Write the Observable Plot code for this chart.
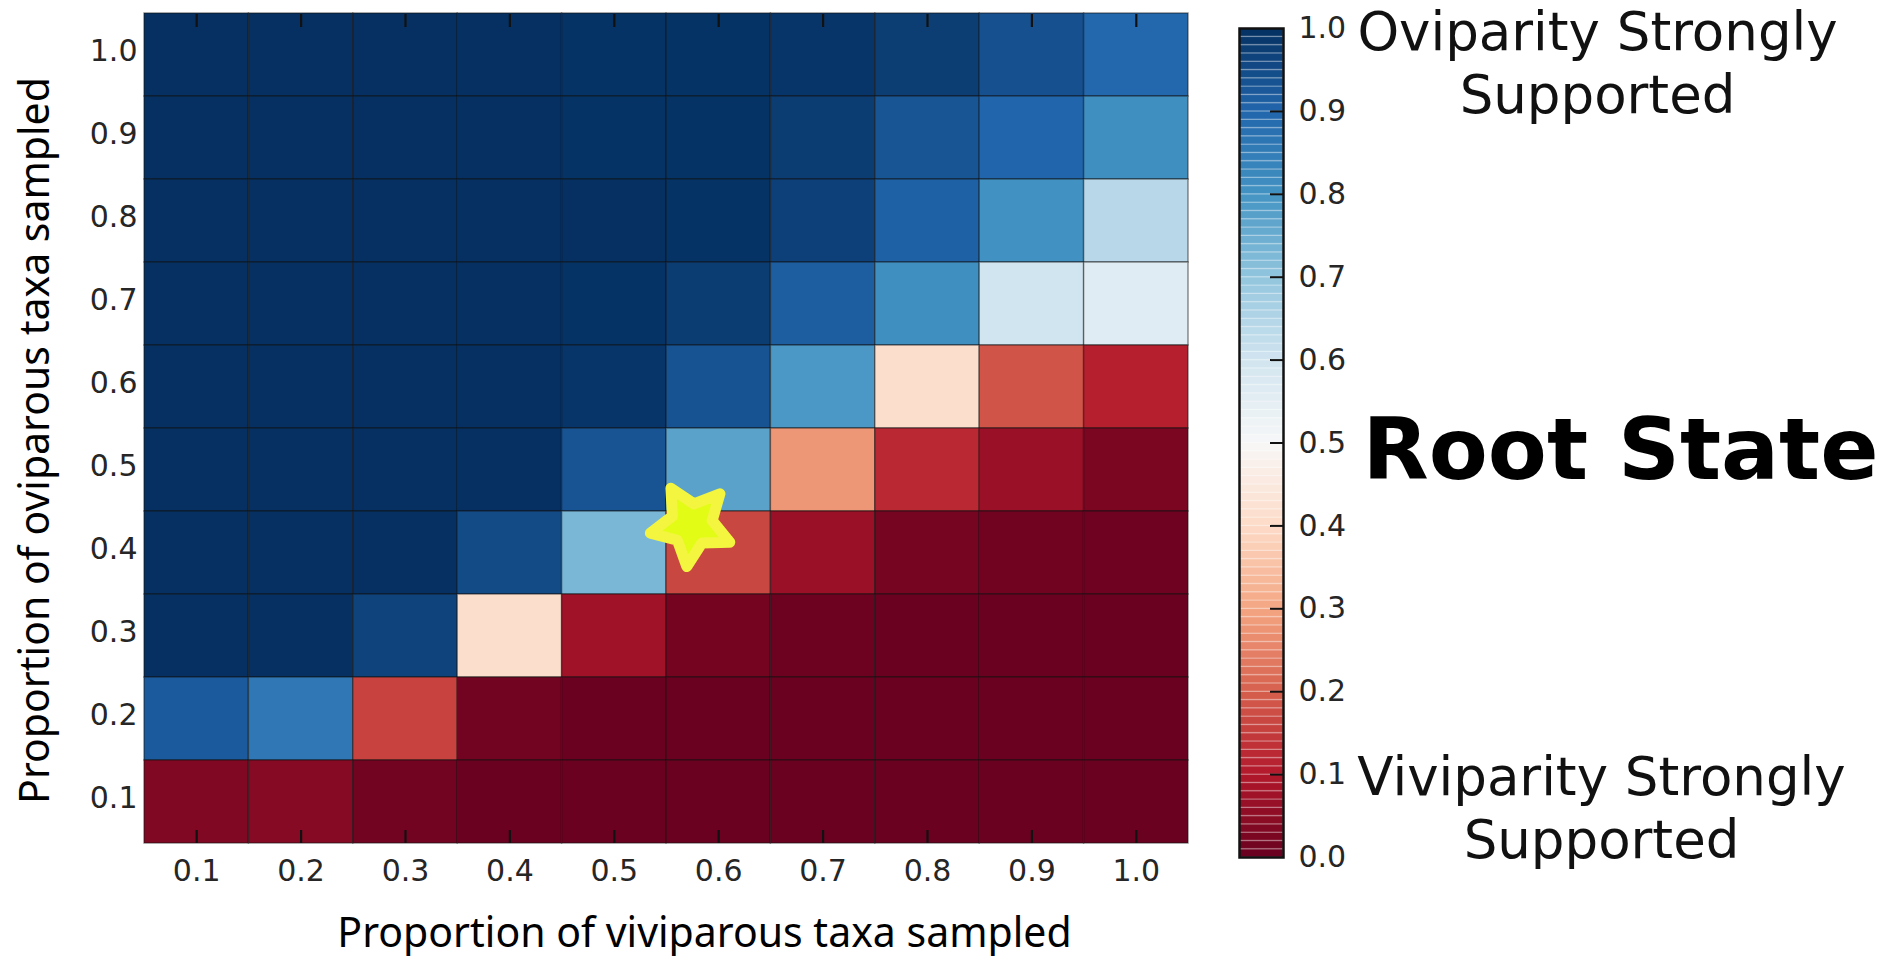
<!DOCTYPE html>
<html>
<head>
<meta charset="utf-8">
<script src="https://cdn.jsdelivr.net/npm/d3@7"></script>
<script src="https://cdn.jsdelivr.net/npm/@observablehq/plot@0.6"></script>
<style>
  html, body { margin: 0; padding: 0; background: #fff; overflow: hidden; }
  #root { position: relative; width: 1895px; height: 956px; background: #fff; }
  #root svg { position: absolute; top: 0; }
</style>
</head>
<body>
<div id="root"></div>
<script>
// ---- data ----
// proportion of viviparous taxa sampled (columns)
const viviparousProps = [0.1, 0.2, 0.3, 0.4, 0.5, 0.6, 0.7, 0.8, 0.9, 1.0];
// proportion of oviparous taxa sampled (rows, top to bottom)
const oviparousProps = [1.0, 0.9, 0.8, 0.7, 0.6, 0.5, 0.4, 0.3, 0.2, 0.1];
// probability of oviparous root state, one array per row
const rootOvi10 = [1.00, 1.00, 1.00, 1.00, 0.995, 0.995, 0.99, 0.975, 0.94, 0.895];
const rootOvi09 = [1.00, 1.00, 1.00, 1.00, 0.995, 0.995, 0.978, 0.932, 0.90, 0.81];
const rootOvi08 = [1.00, 1.00, 1.00, 1.00, 1.00, 0.995, 0.97, 0.91, 0.805, 0.64];
const rootOvi07 = [1.00, 1.00, 1.00, 1.00, 0.995, 0.978, 0.915, 0.81, 0.60, 0.56];
const rootOvi06 = [1.00, 1.00, 1.00, 1.00, 0.99, 0.935, 0.79, 0.41, 0.184, 0.11];
const rootOvi05 = [1.00, 1.00, 1.00, 1.00, 0.933, 0.77, 0.28, 0.123, 0.068, 0.027];
const rootOvi04 = [1.00, 1.00, 1.00, 0.95, 0.73, 0.165, 0.068, 0.02, 0.013, 0.01];
const rootOvi03 = [1.00, 1.00, 0.965, 0.41, 0.075, 0.018, 0.007, 0.005, 0.005, 0.005];
const rootOvi02 = [0.92, 0.86, 0.16, 0.016, 0.005, 0.005, 0.005, 0.005, 0.005, 0.005];
const rootOvi01 = [0.035, 0.043, 0.016, 0.005, 0.005, 0.005, 0.005, 0.005, 0.005, 0.005];
const rootRows = [rootOvi10, rootOvi09, rootOvi08, rootOvi07, rootOvi06, rootOvi05, rootOvi04, rootOvi03, rootOvi02, rootOvi01];

// highlighted sampling (yellow star)
const starPoint = [{vivi: 0.574, ovi: 0.434}];

// tick labels
const axisTicks = [0.1, 0.2, 0.3, 0.4, 0.5, 0.6, 0.7, 0.8, 0.9, 1.0];
const colorbarTicks = [0.0, 0.1, 0.2, 0.3, 0.4, 0.5, 0.6, 0.7, 0.8, 0.9, 1.0];

// text
const xTitle = "Proportion of viviparous taxa sampled";
const yTitle = "Proportion of oviparous taxa sampled";
const topNote = "Oviparity Strongly\nSupported";
const midNote = "Root State";
const bottomNote = "Viviparity Strongly\nSupported";

// RdBu colormap stops (matplotlib / ColorBrewer)
const rdbuStops = [0, 0.1, 0.2, 0.3, 0.4, 0.5, 0.6, 0.7, 0.8, 0.9, 1.0];
const rdbuColors = ["#67001f","#b2182b","#d6604d","#f4a582","#fddbc7","#f7f7f7","#d1e5f0","#92c5de","#4393c3","#2166ac","#053061"];

// ---- build ----
const cells = [];
oviparousProps.forEach((ov, i) => {
  viviparousProps.forEach((vv, j) => cells.push({vivi: vv, ovi: ov, p: rootRows[i][j]}));
});

const colorScale = {type: "linear", domain: rdbuStops, range: rdbuColors, interpolate: "rgb"};
const half = 0.05;

const starRotation = -29.5;
const rotatedStar = {
  draw(context, size) {
    const R = Math.sqrt(size / Math.PI);
    const rIn = R * 0.5;
    const rot = starRotation * Math.PI / 180;
    for (let i = 0; i < 10; i++) {
      const a = rot + i * Math.PI / 5;
      const rr = i % 2 ? rIn : R;
      const px = rr * Math.sin(a), py = -rr * Math.cos(a);
      if (i) context.lineTo(px, py); else context.moveTo(px, py);
    }
    context.closePath();
  }
};

const main = Plot.plot({
  width: 1895,
  height: 956,
  marginLeft: 144,
  marginRight: 707,
  marginTop: 13,
  marginBottom: 113,
  x: {domain: [0.05, 1.05]},
  y: {domain: [0.05, 1.05]},
  color: colorScale,
  style: {fontFamily: "'DejaVu Sans', sans-serif", fontSize: "30px", color: "#262626", background: "transparent", overflow: "visible"},
  marks: [
    Plot.rect(cells, {
      x1: d => d.vivi - half, x2: d => d.vivi + half,
      y1: d => d.ovi - half, y2: d => d.ovi + half,
      fill: "p", stroke: "#111", strokeOpacity: 0.5, strokeWidth: 1.4
    }),
    Plot.axisX(axisTicks, {anchor: "bottom", tickSize: -13, stroke: "#111", strokeWidth: 2.2, tickFormat: () => "", label: null}),
    Plot.axisX(axisTicks, {anchor: "top", tickSize: -13, stroke: "#111", strokeWidth: 2.2, tickFormat: () => "", label: null}),
    Plot.axisX(axisTicks, {anchor: "bottom", tickSize: 0, tickPadding: 16, tickFormat: d3.format(".1f"), label: null}),
    Plot.axisY(axisTicks, {anchor: "left", tickSize: 0, tickPadding: 7, tickFormat: d3.format(".1f"), label: null, dy: -4}),
    Plot.dot(starPoint, {
      x: "vivi", y: "ovi", r: 42, symbol: rotatedStar,
      fill: "#e2fc16", stroke: "#f3f53f", strokeWidth: 11, strokeLinejoin: "round"
    }),
    Plot.text([xTitle], {
      text: d => d, frameAnchor: "bottom", dx: 38, dy: 90, textAnchor: "middle", lineAnchor: "middle",
      fontFamily: "'Noto Sans', sans-serif", fontSize: 41, fill: "#000"
    }),
    Plot.text([yTitle], {
      text: d => d, frameAnchor: "left", rotate: -90, dx: -109, dy: 12, textAnchor: "middle", lineAnchor: "middle",
      fontFamily: "'Noto Sans', sans-serif", fontSize: 41, fill: "#000"
    })
  ]
});
main.style.left = "0px";

const cbStops = d3.range(0, 100).map(i => i / 100);
const colorbar = Plot.plot({
  width: 705,
  height: 956,
  marginLeft: 49,
  marginRight: 612,
  marginTop: 28,
  marginBottom: 99,
  x: {axis: null},
  y: {domain: [0, 1], axis: null},
  color: colorScale,
  style: {fontFamily: "'DejaVu Sans', sans-serif", fontSize: "30px", color: "#262626", background: "transparent", overflow: "visible"},
  marks: [
    Plot.rect(cbStops, {y1: d => d, y2: d => d + 0.01, fill: d => d + 0.005, stroke: "#fff", strokeOpacity: 0.2, strokeWidth: 1.6}),
    Plot.tickY(colorbarTicks.slice(1, -1), {y: d => d, insetLeft: 31, stroke: "#111", strokeWidth: 2}),
    Plot.frame({stroke: "#111", strokeWidth: 2.5}),
    Plot.axisY(colorbarTicks, {anchor: "right", tickSize: 0, tickPadding: 15, tickFormat: d3.format(".1f"), label: null}),
    Plot.text([topNote], {
      text: d => d, y: 1.0, frameAnchor: "right", dx: 314, dy: -24, textAnchor: "middle", lineAnchor: "top",
      fontSize: 53, lineHeight: 1.2, fill: "#111"
    }),
    Plot.text([midNote], {
      text: d => d, y: 0.5, frameAnchor: "right", dx: 79, dy: 8, textAnchor: "start", lineAnchor: "middle",
      fontSize: 86, fontWeight: "bold", fill: "#000"
    }),
    Plot.text([bottomNote], {
      text: d => d, y: 0.1, frameAnchor: "right", dx: 318, dy: -25, textAnchor: "middle", lineAnchor: "top",
      fontSize: 53, lineHeight: 1.2, fill: "#111"
    })
  ]
});
colorbar.style.left = "1190px";

const root = document.getElementById("root");
root.appendChild(main);
root.appendChild(colorbar);
</script>
</body>
</html>
